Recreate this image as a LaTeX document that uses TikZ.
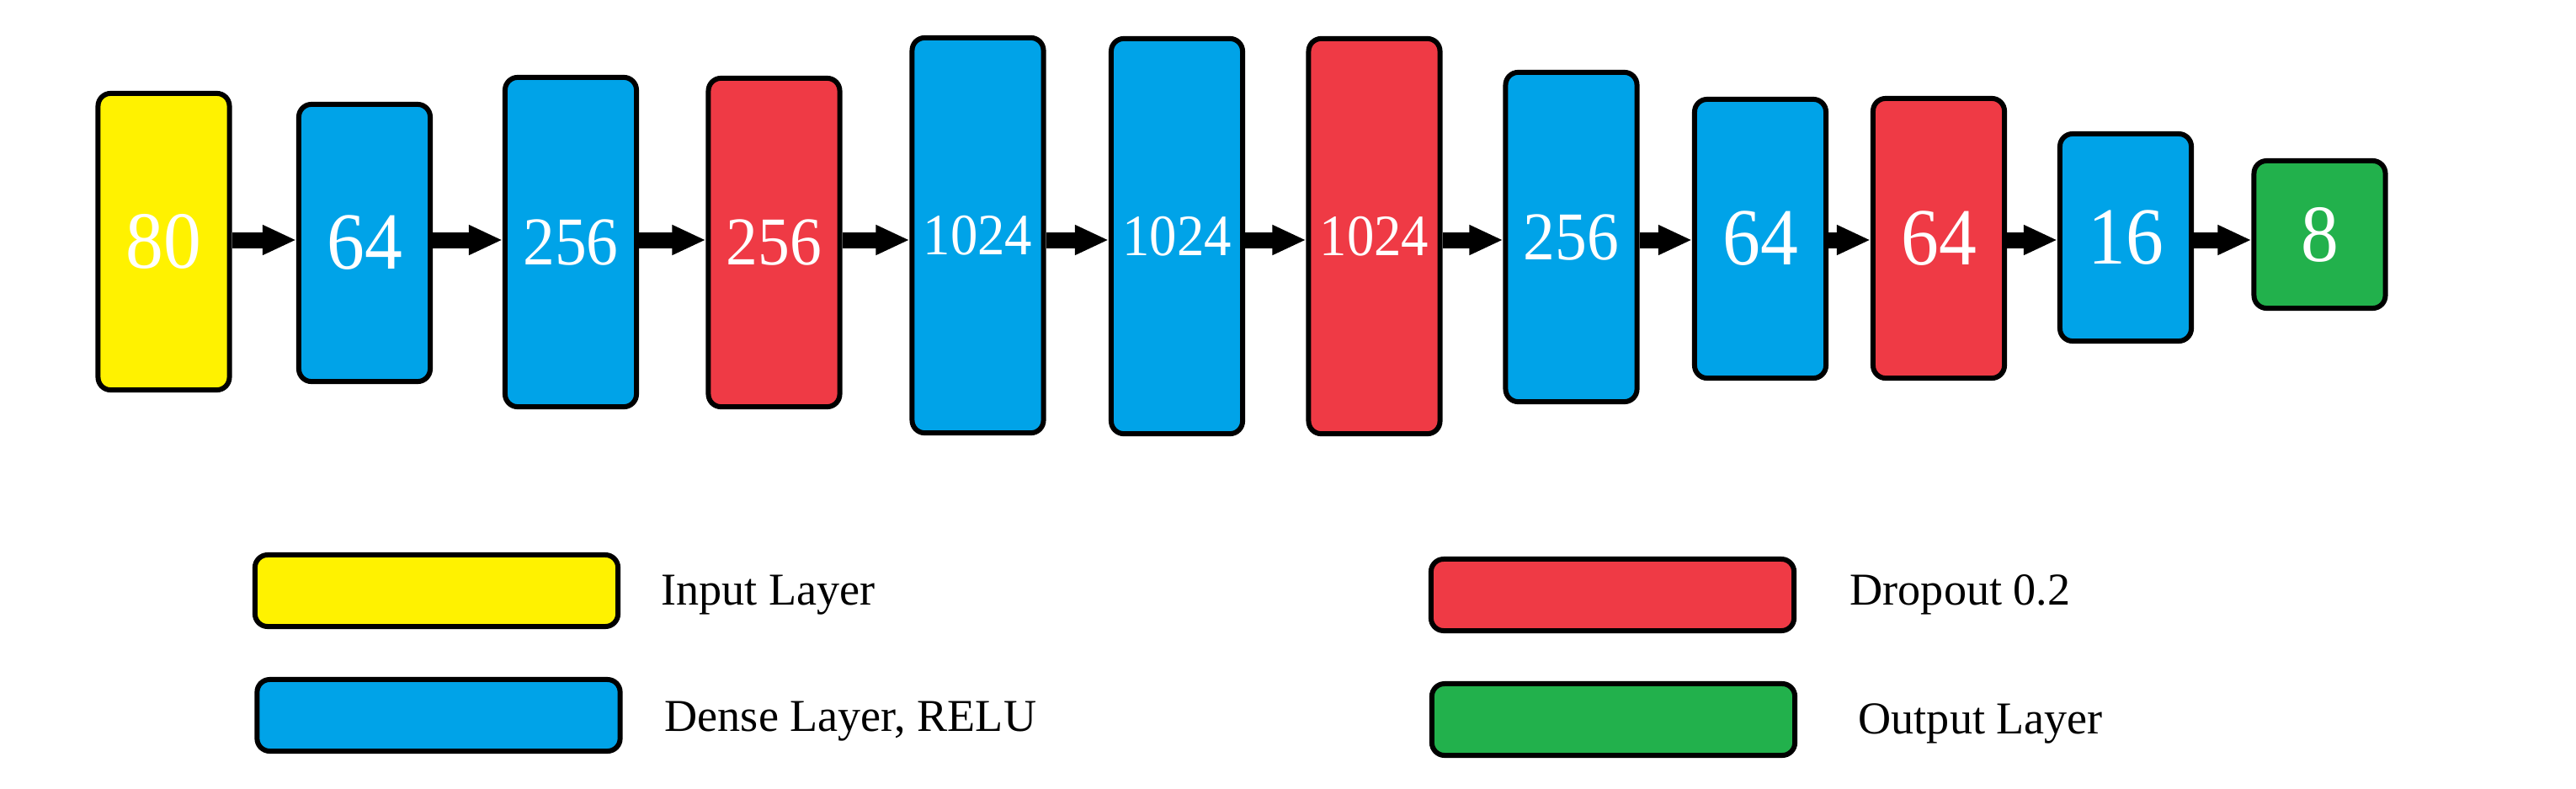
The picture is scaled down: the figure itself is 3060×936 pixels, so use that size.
\documentclass[tikz,border=0pt]{standalone}
\usepackage{fontspec}
\setmainfont{Liberation Serif}
\newfontfamily\numfont[FakeStretch=0.93]{Liberation Serif}
\usepackage{xcolor}
\usepackage{tikz}
\usetikzlibrary{arrows.meta,positioning}

\definecolor{inyellow}{HTML}{FFF200}
\definecolor{denseblue}{HTML}{00A3E8}
\definecolor{dropred}{HTML}{EF3A45}
\definecolor{outgreen}{HTML}{22B14C}

\begin{document}
\begin{tikzpicture}[x=0.01cm,y=-0.01cm,
    layer/.style={draw=black,line width=1.7pt,rounded corners=0.15cm,inner sep=0pt,minimum width=1.56cm,text=white},
    big/.style={font=\numfont\fontsize{27.4}{30}\selectfont},
    mid/.style={font=\numfont\fontsize{23.1}{26}\selectfont},
    small/.style={font=\numfont\fontsize{19.8}{22}\selectfont},
    key/.style={draw=black,line width=1.7pt,rounded corners=0.15cm,minimum width=4.31cm,minimum height=0.85cm},
    keytext/.style={anchor=base west,inner sep=0pt,font=\fontsize{15.4}{18}\selectfont},
    flow/.style={line width=0.19cm,-{Triangle[length=0.4cm,width=0.33cm]}}]
    \path[fill=white,use as bounding box] (0,0) rectangle (3060,936);
    \coordinate (row) at (0,285);

    % layers
    \node[layer,big,fill=inyellow,minimum height=3.52cm] (in) at (194.5,287) {80};
    \node[layer,big,fill=denseblue,minimum height=3.29cm] (d1) at (433,288.5) {64};
    \node[layer,mid,fill=denseblue,minimum height=3.91cm] (d2) at (678,287.5) {256};
    \node[layer,mid,fill=dropred,minimum height=3.90cm] (p1) at (919.5,288) {256};
    \node[layer,small,fill=denseblue,minimum height=4.69cm] (d3) at (1161.5,279.5) {1024};
    \node[layer,small,fill=denseblue,minimum height=4.69cm] (d4) at (1398,280.5) {1024};
    \node[layer,small,fill=dropred,minimum height=4.69cm] (p2) at (1632.5,280.5) {1024};
    \node[layer,mid,fill=denseblue,minimum height=3.91cm] (d5) at (1866.5,281.5) {256};
    \node[layer,big,fill=denseblue,minimum height=3.31cm] (d6) at (2091,283.5) {64};
    \node[layer,big,fill=dropred,minimum height=3.32cm] (p3) at (2303,283) {64};
    \node[layer,big,fill=denseblue,minimum height=2.46cm] (d7) at (2525,282) {16};
    \node[layer,big,fill=outgreen,minimum height=1.75cm] (out) at (2755.5,278.5) {8};

    \draw[flow] (in.east |- row) -- (d1.west |- row);
    \draw[flow] (d1.east |- row) -- (d2.west |- row);
    \draw[flow] (d2.east |- row) -- (p1.west |- row);
    \draw[flow] (p1.east |- row) -- (d3.west |- row);
    \draw[flow] (d3.east |- row) -- (d4.west |- row);
    \draw[flow] (d4.east |- row) -- (p2.west |- row);
    \draw[flow] (p2.east |- row) -- (d5.west |- row);
    \draw[flow] (d5.east |- row) -- (d6.west |- row);
    \draw[flow] (d6.east |- row) -- (p3.west |- row);
    \draw[flow] (p3.east |- row) -- (d7.west |- row);
    \draw[flow] (d7.east |- row) -- (out.west |- row);

    % legend
    \node[key,fill=inyellow] (kin) at (518.5,701.5) {};
    \node[key,fill=denseblue] (kdense) at (521,849.5) {};
    \node[key,fill=dropred] (kdrop) at (1915.5,706.5) {};
    \node[key,fill=outgreen] (kout) at (1916.5,854.5) {};
    \node[keytext] (tin) at (785,718) {Input Layer};
    \node[keytext] (tdense) at (789,868) {Dense Layer, RELU};
    \node[keytext] (tdrop) at (2197,718) {Dropout 0.2};
    \node[keytext] (tout) at (2207,871) {Output Layer};
\end{tikzpicture}
\end{document}
